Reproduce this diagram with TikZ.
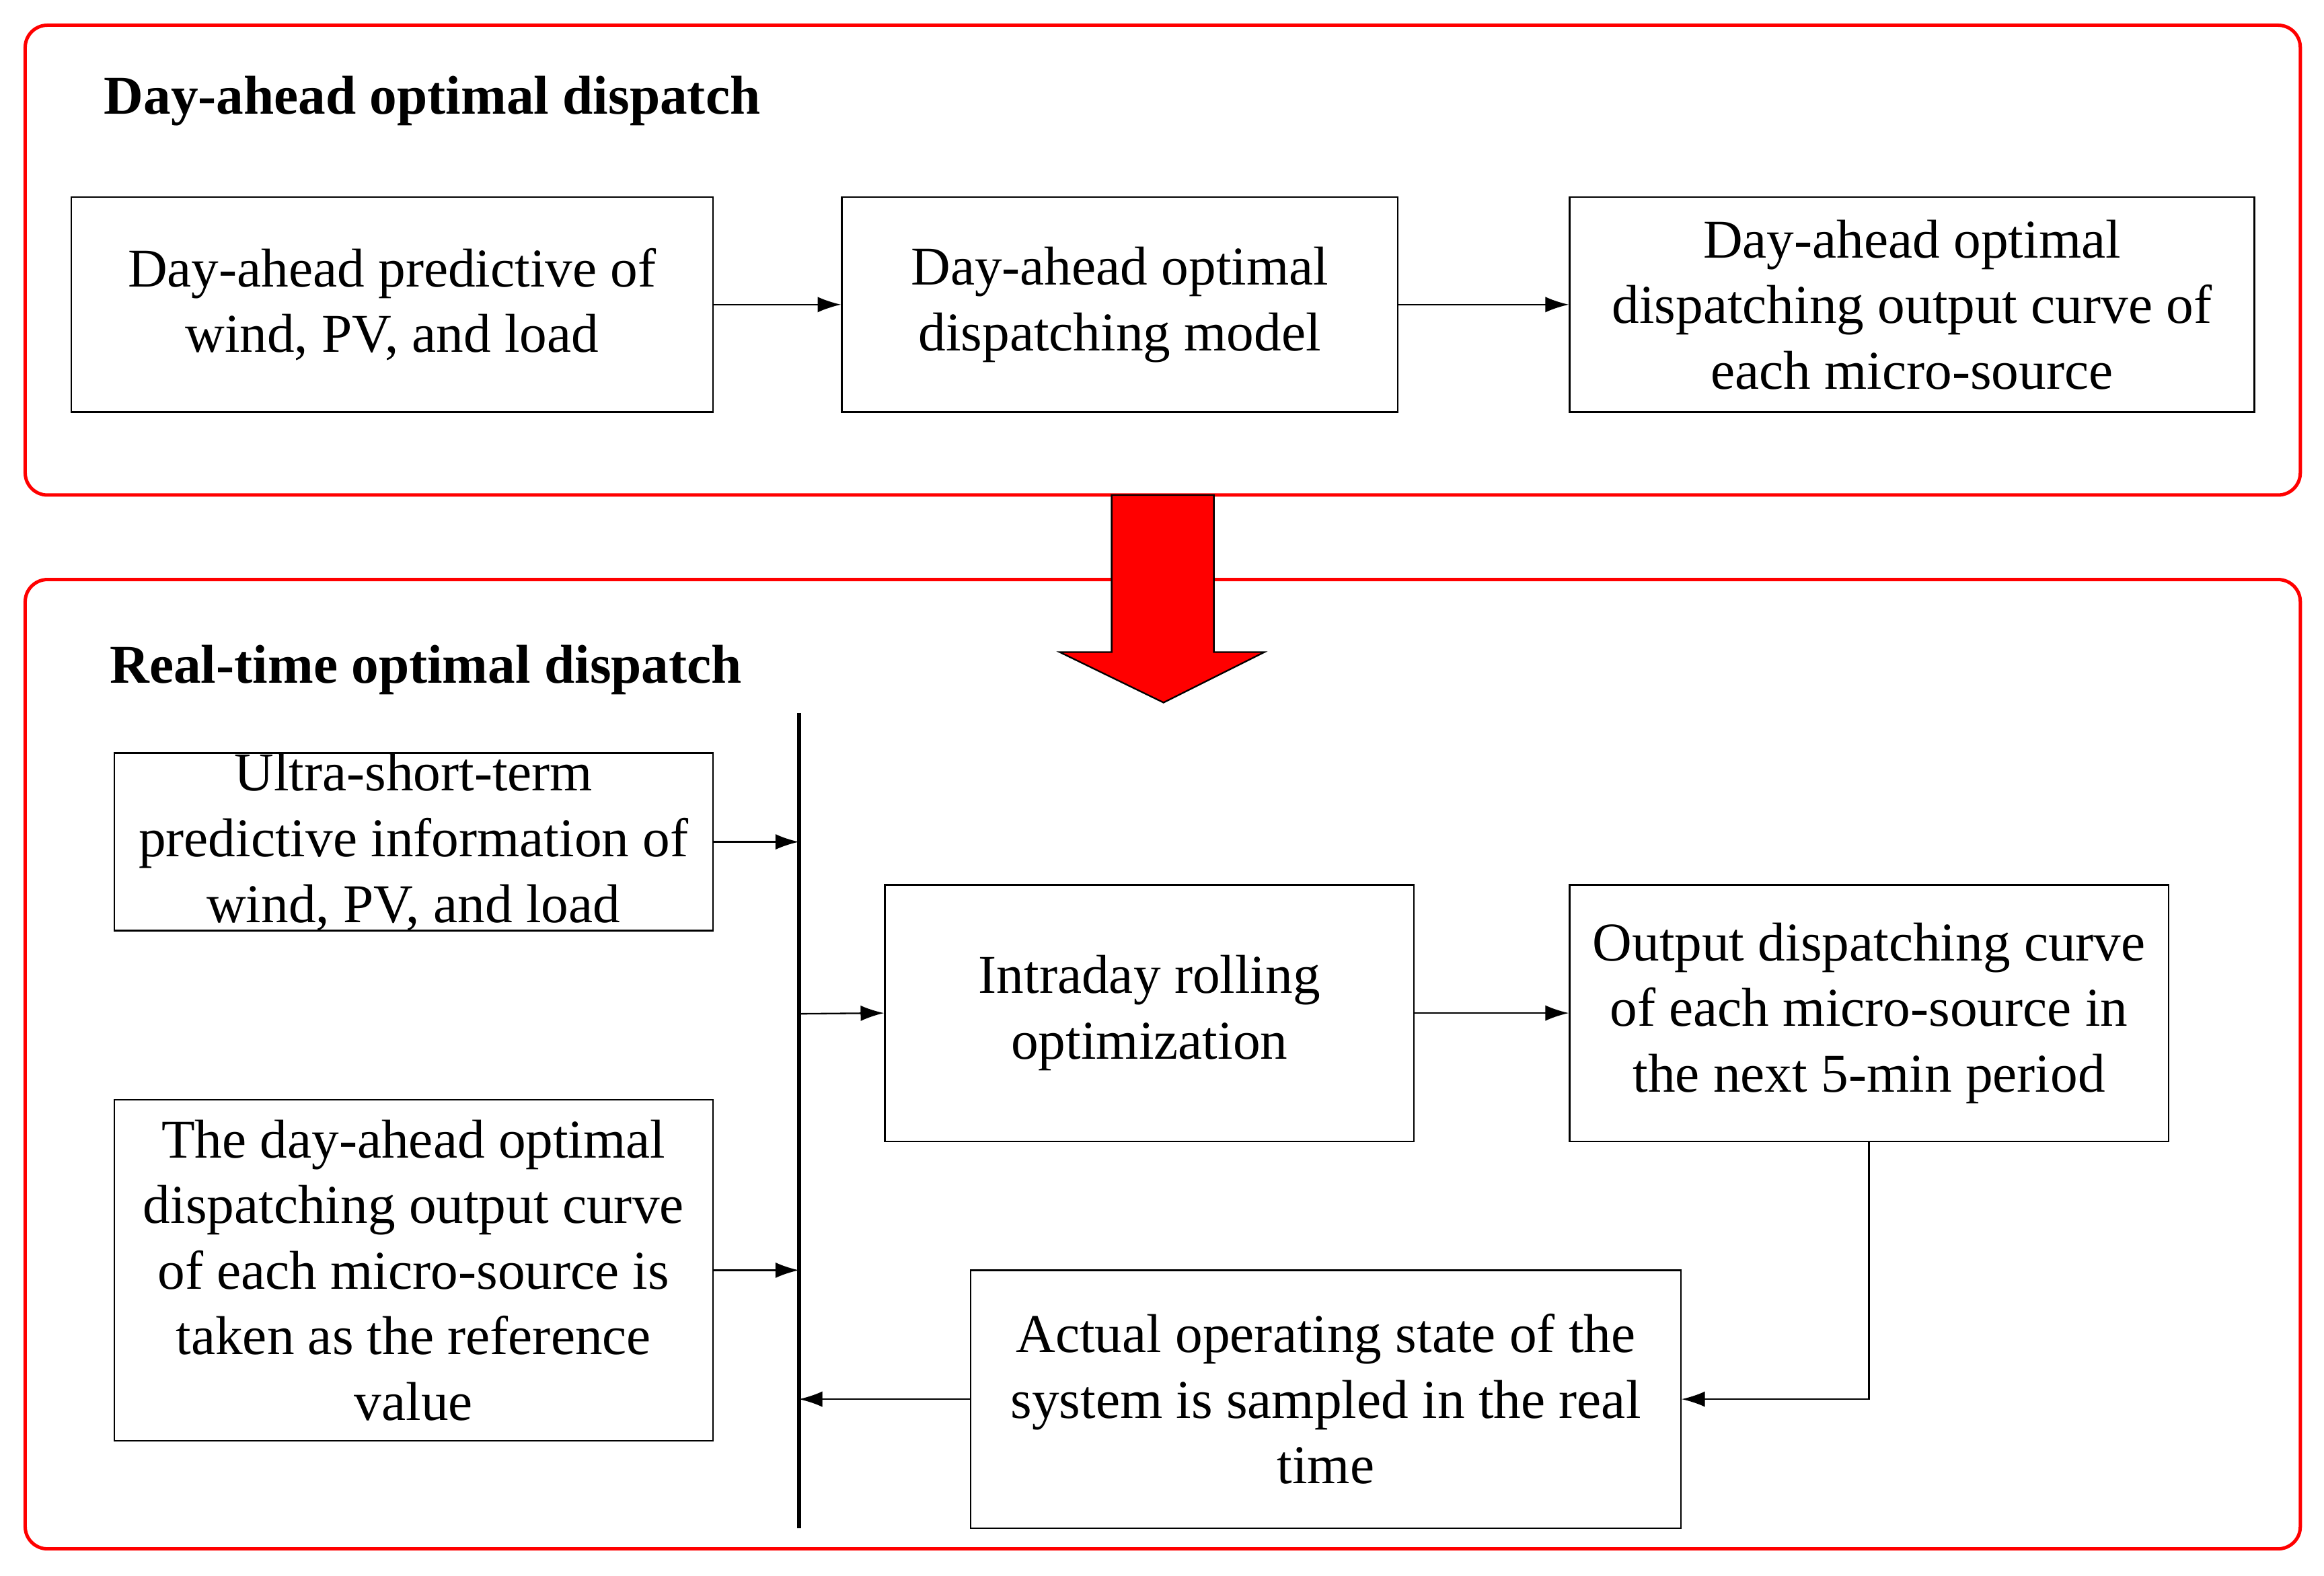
\documentclass[tikz,border=0pt]{standalone}
\usepackage{fontspec}
\setmainfont{Liberation Serif}
\usetikzlibrary{arrows.meta}
\begin{document}
\begin{tikzpicture}[x=0.02cm,y=-0.02cm,
 box/.style={draw,line width=0.6pt,align=center,inner sep=0pt,font=\fontsize{21}{25.2}\selectfont},
 grp/.style={draw=red,line width=1.3pt,rounded corners=0.3cm},
 arr/.style={-{Latex[length=9pt,width=6pt]},line width=0.6pt},
 ttl/.style={font=\bfseries\fontsize{21}{25}\selectfont,anchor=west}]
\useasboundingbox (0,0) rectangle (1568,1063);
\draw[grp] (17,17) rectangle (1552,334);
\draw[grp] (17,391) rectangle (1552,1045);
\node[ttl] (t1) at (64,68) {Day-ahead optimal dispatch};
\node[ttl] (t2) at (68,452) {Real-time optimal dispatch};
\draw[fill=red,line width=0.6pt] (750,334) -- (819,334) -- (819,440) -- (853,440) -- (785,474) -- (715,440) -- (750,440) -- cycle;
\node[box,minimum width=433*0.02cm,minimum height=145*0.02cm] (a) at (264.5,205.5) {Day-ahead predictive of\\wind, PV, and load};
\node[box,minimum width=375*0.02cm,minimum height=145*0.02cm] (b) at (755.5,205.5) {Day-ahead optimal\\dispatching model};
\node[box,minimum width=462*0.02cm,minimum height=145*0.02cm] (c) at (1290,205.5) {Day-ahead optimal\\dispatching output curve of\\each micro-source};
\draw[arr] (a) -- (b);
\draw[arr] (b) -- (c);
\coordinate (vt) at (539,481); \coordinate (vb) at (539,1031);
\draw[line width=1.5pt] (vt) -- (vb);
\node[box,minimum width=404*0.02cm,minimum height=116*0.02cm] (d) at (279,568) {Ultra-short-term\\predictive information of\\wind, PV, and load};
\node[box,minimum width=404*0.02cm,minimum height=230*0.02cm] (e) at (279,857) {The day-ahead optimal\\dispatching output curve\\of each micro-source is\\taken as the reference\\value};
\node[box,minimum width=357*0.02cm,minimum height=173*0.02cm] (f) at (775.5,683.5) {Intraday rolling\\optimization};
\node[box,minimum width=404*0.02cm,minimum height=173*0.02cm] (g) at (1261,683.5) {Output dispatching curve\\of each micro-source in\\the next 5-min period};
\node[box,minimum width=479*0.02cm,minimum height=174*0.02cm] (h) at (894.5,944) {Actual operating state of the\\system is sampled in the real\\time};
\coordinate (pd) at (539,568);
\coordinate (pe) at (539,857);
\coordinate (pf) at (539,684);
\coordinate (ph) at (539,944);
\draw[arr] (d.east) -- (pd);
\draw[arr] (e.east) -- (pe);
\draw[arr] (pf) -- (f.west);
\draw[arr] (f) -- (g);
\draw[arr] (g.south) |- (h.east);
\draw[arr] (h.west) -- (ph);
\end{tikzpicture}
\end{document}
